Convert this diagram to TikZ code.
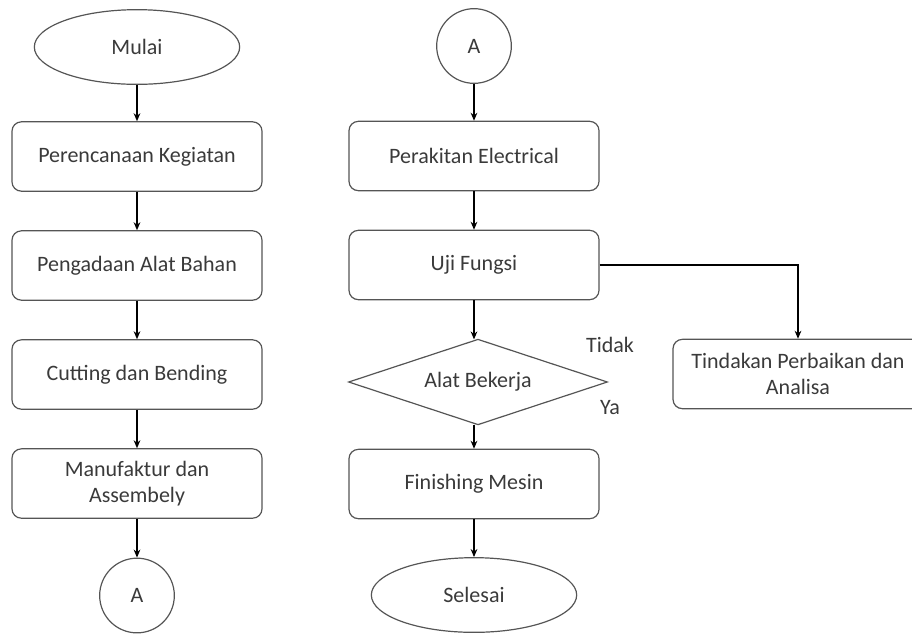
\documentclass[tikz,border=0pt]{standalone}
\usepackage{fontspec}
\setmainfont{Carlito}
\usetikzlibrary{shapes.geometric,arrows.meta}
\definecolor{txt}{HTML}{3A3A3A}
\definecolor{edge}{HTML}{555555}
\tikzset{
  base/.style={draw=edge, line width=0.9pt, text=txt, align=center,
    font=\fontsize{16.5pt}{20pt}\selectfont, inner sep=0pt},
  procbox/.style={base, rectangle, rounded corners=7pt,
    minimum width=187.5pt, minimum height=52pt},
  termnode/.style={base, ellipse, minimum width=154pt, minimum height=56pt},
  connnode/.style={base, circle, minimum size=56pt},
  decnode/.style={base, draw=none, rectangle, minimum width=193pt, minimum height=63pt},
  decline/.style={draw=edge, line width=0.9pt},
  flow/.style={draw=black, line width=1.4pt,
    -{Stealth[length=6pt,width=5pt]}},
  lbl/.style={text=txt, font=\fontsize{16.5pt}{20pt}\selectfont, inner sep=0pt}
}
\begin{document}
\begin{tikzpicture}[x=0.75pt,y=-0.75pt]
\useasboundingbox (0,0) rectangle (912,633);
\clip (0,0) rectangle (912,633);
% left column
\node[termnode] (mulai) at (137,47) {Mulai};
\node[procbox] (p1) at (137,156.5) {Perencanaan Kegiatan};
\node[procbox] (p2) at (137,265.5) {Pengadaan Alat Bahan};
\node[procbox] (p3) at (137,374.5) {Cutting dan Bending};
\node[procbox] (p4) at (137,483.5) {Manufaktur dan\\Assembely};
\node[connnode] (a1) at (137,595.5) {A};
% right column
\node[connnode] (a2) at (474,46) {A};
\node[procbox] (r1) at (474,156) {Perakitan Electrical};
\node[procbox] (r2) at (474,265) {Uji Fungsi};
\node[decnode] (d) at (478,382) {Alat Bekerja};
\draw[decline] (d.north) -- (d.east) -- (d.south) -- (d.west) -- cycle;
\node[procbox] (r3) at (474,484) {Finishing Mesin};
\node[termnode] (sel) at (474,595) {Selesai};
\node[procbox] (t) at (798,374) {Tindakan Perbaikan dan\\Analisa};
\node[lbl] (tidak) at (610,345) {Tidak};
\node[lbl] (ya) at (610,408) {Ya};
% connectors
\draw[flow] (mulai) -- (p1);
\draw[flow] (p1) -- (p2);
\draw[flow] (p2) -- (p3);
\draw[flow] (p3) -- (p4);
\draw[flow] (p4) -- (a1);
\draw[flow] (a2) -- (r1);
\draw[flow] (r1) -- (r2);
\draw[flow] (r2.south) -- (r2.south |- d.north);
\draw[flow] (r3.north |- d.south) -- (r3.north);
\draw[flow] (r3) -- (sel);
\draw[flow] (r2.east) -| (t.north);
\end{tikzpicture}
\end{document}
